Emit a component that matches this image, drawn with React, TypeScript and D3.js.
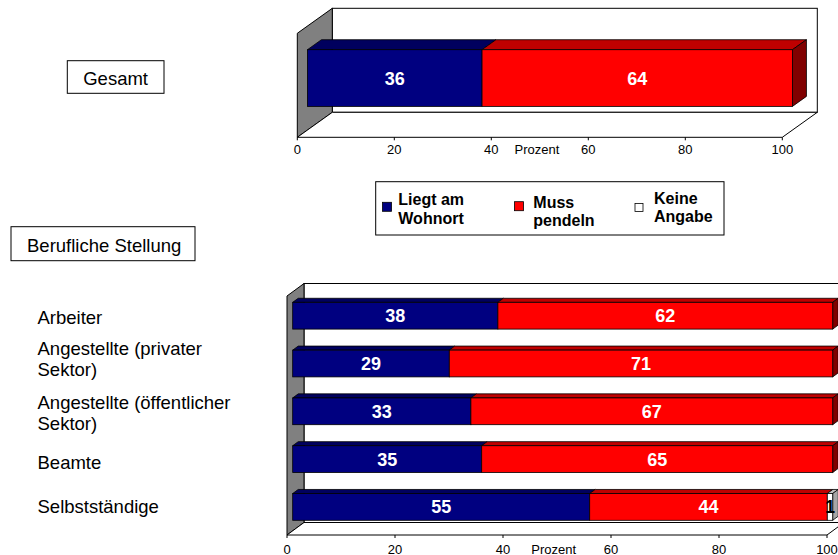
import React from "react";
import * as d3 from "d3";

// Werte in Prozent
const gesamtCategories = ["Gesamt"];
const gesamtWohnort = [36];
const gesamtPendeln = [64];
const gesamtKeineAngabe = [0];

const stellungCategories = [
  "Arbeiter",
  "Angestellte (privater Sektor)",
  "Angestellte (öffentlicher Sektor)",
  "Beamte",
  "Selbstständige",
];
const stellungLines = [
  ["Arbeiter"],
  ["Angestellte (privater", "Sektor)"],
  ["Angestellte (öffentlicher", "Sektor)"],
  ["Beamte"],
  ["Selbstständige"],
];
const stellungWohnort = [38, 29, 33, 35, 55];
const stellungPendeln = [62, 71, 67, 65, 44];
const stellungKeineAngabe = [0, 0, 0, 0, 1];

const seriesNames = [
  ["Liegt am", "Wohnort"],
  ["Muss", "pendeln"],
  ["Keine", "Angabe"],
];
const axisTicks = [0, 20, 40, 60, 80, 100];
const axisTitle = "Prozent";

const FONT = "'Liberation Sans', Arial, Helvetica, sans-serif";

type Face = { front: string; top: string; side: string; text: string };
const faces: Face[] = [
  { front: "#000080", top: "#00005E", side: "#000040", text: "#FFFFFF" },
  { front: "#FF0000", top: "#BF0000", side: "#800000", text: "#FFFFFF" },
  { front: "#FFFFFF", top: "#BFBFBF", side: "#A6A6A6", text: "#000000" },
];

type ChartProps = {
  categories: string[];
  series: number[][];
  x0: number;
  x1: number;
  yTop: number;
  yFloor: number;
  dx: number;
  dy: number;
  f0: number;
  f1: number;
  padInner: number;
  padOuter: number;
  tickBaseline: number;
};

const pts = (p: [number, number][]) => p.map((q) => q.join(",")).join(" ");

function Bar3DChart(props: ChartProps) {
  const {
    categories, series, x0, x1, yTop, yFloor, dx, dy, f0, f1,
    padInner, padOuter, tickBaseline,
  } = props;
  const x = d3.scaleLinear().domain([0, 100]).range([x0, x1]);
  const y = d3
    .scaleBand<string>()
    .domain(categories)
    .range([yTop, yFloor])
    .paddingInner(padInner)
    .paddingOuter(padOuter);
  const fx = f0 * dx;
  const fy = f0 * dy;
  const bdx = (f1 - f0) * dx;
  const bdy = (f1 - f0) * dy;
  const bw = y.bandwidth();
  const sw = 0.8;

  return (
    <g>
      {/* back wall */}
      <rect
        x={x0 + dx}
        y={yTop + dy}
        width={x1 - x0}
        height={yFloor - yTop}
        fill="#FFFFFF"
        stroke="#000"
        strokeWidth={1}
      />
      {/* left wall */}
      <polygon
        points={pts([
          [x0, yFloor],
          [x0 + dx, yFloor + dy],
          [x0 + dx, yTop + dy],
          [x0, yTop],
        ])}
        fill="#808080"
        stroke="#000"
        strokeWidth={1}
      />
      {/* floor */}
      <polygon
        points={pts([
          [x0, yFloor],
          [x1, yFloor],
          [x1 + dx, yFloor + dy],
          [x0 + dx, yFloor + dy],
        ])}
        fill="#FFFFFF"
        stroke="#000"
        strokeWidth={1}
      />
      {/* bars */}
      {categories.map((cat, i) => {
        const vals = series.map((s) => s[i]);
        const lastIdx = vals.reduce((acc, v, k) => (v > 0 ? k : acc), -1);
        let cum = 0;
        const top = (y(cat) as number) + fy;
        const bottom = top + bw;
        return (
          <g key={cat}>
            {vals.map((v, k) => {
              const start = cum;
              cum += v;
              if (v <= 0) return null;
              const xs = x(start) + fx;
              const xe = x(start + v) + fx;
              const f = faces[k];
              return (
                <g key={k}>
                  <polygon
                    points={pts([
                      [xs, top],
                      [xs + bdx, top + bdy],
                      [xe + bdx, top + bdy],
                      [xe, top],
                    ])}
                    fill={f.top}
                    stroke="#000"
                    strokeWidth={sw}
                    strokeLinejoin="round"
                  />
                  {k === lastIdx && (
                    <polygon
                      points={pts([
                        [xe, top],
                        [xe + bdx, top + bdy],
                        [xe + bdx, bottom + bdy],
                        [xe, bottom],
                      ])}
                      fill={f.side}
                      stroke="#000"
                      strokeWidth={sw}
                      strokeLinejoin="round"
                    />
                  )}
                  <rect
                    x={xs}
                    y={top}
                    width={xe - xs}
                    height={bw}
                    fill={f.front}
                    stroke="#000"
                    strokeWidth={sw}
                  />
                </g>
              );
            })}
            {(() => {
              let c = 0;
              return vals.map((v, k) => {
                const s = c;
                c += v;
                if (v <= 0) return null;
                const cx = (x(s) + x(s + v)) / 2 + fx;
                return (
                  <text
                    key={"l" + k}
                    x={cx}
                    y={top + bw / 2}
                    dy="0.36em"
                    textAnchor="middle"
                    fontFamily={FONT}
                    fontWeight="bold"
                    fontSize={18}
                    fill={faces[k].text}
                  >
                    {v}
                  </text>
                );
              });
            })()}
          </g>
        );
      })}
      {/* value axis */}
      {axisTicks.map((t) => (
        <g key={t}>
          <line
            x1={x(t)}
            x2={x(t)}
            y1={yFloor}
            y2={yFloor + 3}
            stroke="#000"
            strokeWidth={1}
          />
          <text
            x={x(t)}
            y={tickBaseline}
            textAnchor="middle"
            fontFamily={FONT}
            fontSize={13}
            fill="#000"
          >
            {t}
          </text>
        </g>
      ))}
      <text
        x={x(49.4)}
        y={tickBaseline}
        textAnchor="middle"
        fontFamily={FONT}
        fontSize={13}
        fill="#000"
      >
        {axisTitle}
      </text>
    </g>
  );
}

function Legend() {
  const left = 375.7;
  const topY = 181.7;
  const itemX = [382.5, 514.5, 635];
  const textX = [398.3, 533.3, 654];
  const swatchY = [202.3, 201.7, 203.5];
  const swatchSize = [9, 9, 8];
  const baselines = [
    [205, 223.5],
    [207.5, 225.5],
    [203.5, 222],
  ];
  return (
    <g>
      <rect
        x={left}
        y={topY}
        width={724 - left}
        height={235 - topY}
        fill="#FFFFFF"
        stroke="#000"
        strokeWidth={1}
      />
      {seriesNames.map((lines, k) => (
        <g key={k}>
          <rect
            x={itemX[k]}
            y={swatchY[k]}
            width={swatchSize[k]}
            height={swatchSize[k]}
            fill={faces[k].front}
            stroke="#000"
            strokeWidth={0.8}
          />
          {lines.map((ln, j) => (
            <text
              key={j}
              x={textX[k]}
              y={baselines[k][j]}
              fontFamily={FONT}
              fontWeight="bold"
              fontSize={16}
              fill="#000"
            >
              {ln}
            </text>
          ))}
        </g>
      ))}
    </g>
  );
}

export default function App() {
  const labelBaselines = [324, 355, 408.5, 469.3, 513.3];
  const lineGap = 21;
  return (
    <svg
      width={838}
      height={555}
      viewBox="0 0 838 555"
      style={{ position: "absolute", left: 0, top: 0, background: "#FFFFFF" }}
    >
      <rect x={0} y={0} width={838} height={555} fill="#FFFFFF" />

      {/* Gesamt */}
      <rect x={67.3} y={60.7} width={96.7} height={32.6} fill="#FFF" stroke="#000" strokeWidth={1} />
      <text x={115.6} y={85} textAnchor="middle" fontFamily={FONT} fontSize={18.5} fill="#000">
        {gesamtCategories[0]}
      </text>
      <Bar3DChart
        categories={gesamtCategories}
        series={[gesamtWohnort, gesamtPendeln, gesamtKeineAngabe]}
        x0={297.3}
        x1={782.3}
        yTop={33.3}
        yFloor={137.3}
        dx={35}
        dy={-25}
        f0={0.29}
        f1={0.69}
        padInner={0.455}
        padOuter={0.2275}
        tickBaseline={154}
      />

      <Legend />

      {/* Berufliche Stellung */}
      <rect x={11} y={226.7} width={184} height={34} fill="#FFF" stroke="#000" strokeWidth={1} />
      <text x={27} y={251.5} fontFamily={FONT} fontSize={18.5} fill="#000">
        Berufliche Stellung
      </text>
      {stellungLines.map((lines, i) =>
        lines.map((ln, j) => (
          <text
            key={i + "-" + j}
            x={37.5}
            y={labelBaselines[i] + j * lineGap}
            fontFamily={FONT}
            fontSize={18.5}
            fill="#000"
          >
            {ln}
          </text>
        ))
      )}
      <Bar3DChart
        categories={stellungCategories}
        series={[stellungWohnort, stellungPendeln, stellungKeineAngabe]}
        x0={287}
        x1={827}
        yTop={296}
        yFloor={535}
        dx={17}
        dy={-12.5}
        f0={0.335}
        f1={0.66}
        padInner={0.44}
        padOuter={0.22}
        tickBaseline={553.5}
      />
    </svg>
  );
}
